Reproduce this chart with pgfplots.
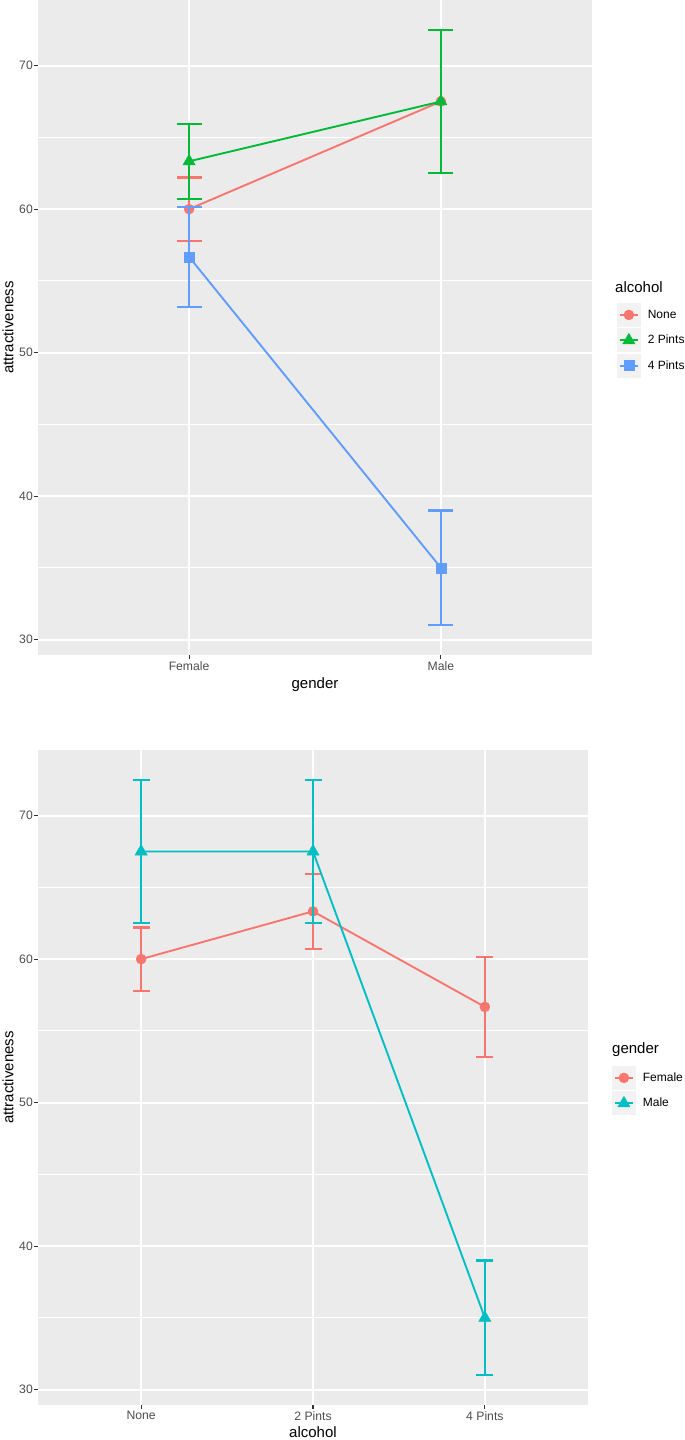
\documentclass[border=0pt]{standalone}
\usepackage{pgfplots}
\usepackage{fontspec}
\setmainfont{Liberation Sans}
\definecolor{gR}{HTML}{F8766D}
\definecolor{gG}{HTML}{00BA38}
\definecolor{gB}{HTML}{619CFF}
\definecolor{gC}{HTML}{00BFC4}
\definecolor{bgcol}{HTML}{EBEBEB}
\definecolor{keycol}{HTML}{F2F2F2}
\definecolor{tickcol}{HTML}{4D4D4D}
\definecolor{tickmark}{HTML}{333333}
\pgfplotsset{compat=1.18,
  legend image code/.code={
    \fill[keycol] (0pt,-11pt) rectangle (22pt,11pt);
    \draw[mark repeat=2,mark phase=2,#1] plot coordinates {(2pt,0pt)(11pt,0pt)(20pt,0pt)};
  }
}
\pgfplotsset{
  ggbase/.style={
    scale only axis, height=655pt,
    clip mode=individual,
    ymin=28.925, ymax=74.575,
    ytick={30,40,50,60,70}, minor ytick={35,45,55,65},
    grid=both,
    major grid style={white, line width=2pt},
    minor grid style={white, line width=1pt},
    axis background/.style={fill=bgcol},
    axis line style={draw=none},
    tick align=outside, tick pos=left,
    major tick length=4pt, minor tick length=0pt,
    tick style={tickmark, line width=1.1pt},
    tick label style={font=\fontsize{12.2}{14}\selectfont, text=tickcol},
    yticklabel style={inner sep=1pt},
    xticklabel style={inner sep=2pt},
    /pgf/number format/assume math mode=true,
    ylabel={attractiveness},
    legend style={anchor=north west, draw=none, fill=none, inner sep=0pt, outer sep=0pt,
      row sep=1.5pt, font=\fontsize{12}{14}\selectfont,
      nodes={inner xsep=2pt},
      /tikz/every odd column/.append style={column sep=5pt}},
    legend cell align=left,
  },
  ebar/.style={error bars/.cd, y dir=both, y explicit,
    error bar style={line width=2.2pt},
    error mark options={rotate=90, line width=2.2pt, mark size=#1}},
}
\begin{document}
\begin{tikzpicture}
\useasboundingbox (0,0) rectangle (685pt,1440pt);
% ---------- top panel ----------
\begin{axis}[ggbase,
  at={(38pt,785pt)}, anchor=south west,
  width=554pt,
  xmin=0.4, xmax=2.6,
  xtick={1,2}, xticklabels={Female,Male},
  xlabel={gender},
  xlabel style={font=\fontsize{15}{17}\selectfont, at={(axis description cs:0.5,-0.0458)}, anchor=center},
  ylabel style={font=\fontsize{15}{17}\selectfont, at={(axis description cs:-0.0542,0.5)}, anchor=center},
  legend style={at={(rel axis cs:1.045,0.5374)}},
]
\addplot[gR, line width=1.9pt, mark=*, mark size=5pt, mark options={line width=0.5pt, fill=gR}, ebar=12.5pt]
  coordinates {(1,60) +- (0,2.2) (2,67.5) +- (0,5)};
\addlegendentry{None}
\addplot[gG, line width=1.9pt, mark=triangle*, mark size=7pt, mark options={line width=0.5pt, fill=gG}, ebar=12.5pt]
  coordinates {(1,63.33) +- (0,2.6) (2,67.5) +- (0,5)};
\addlegendentry{2 Pints}
\addplot[gB, line width=1.9pt, mark=square*, mark size=5pt, mark options={line width=0.5pt, fill=gB}, ebar=12.5pt]
  coordinates {(1,56.67) +- (0,3.47) (2,35) +- (0,4)};
\addlegendentry{4 Pints}
\node[anchor=west, inner sep=0pt, font=\fontsize{15}{17}\selectfont] at (rel axis cs:1.0415,0.5618) {alcohol};
\end{axis}
% ---------- bottom panel ----------
\begin{axis}[ggbase,
  at={(38pt,35pt)}, anchor=south west,
  width=550pt,
  xmin=0.4, xmax=3.6,
  xtick={1,2,3}, xticklabels={None,2 Pints,4 Pints},
  xlabel={alcohol},
  xlabel style={font=\fontsize{15}{17}\selectfont, at={(axis description cs:0.5,-0.0415)}, anchor=center},
  ylabel style={font=\fontsize{15}{17}\selectfont, at={(axis description cs:-0.0545,0.5)}, anchor=center},
  legend style={at={(rel axis cs:1.0436,0.5176)}},
]
\addplot[gR, line width=1.9pt, mark=*, mark size=5pt, mark options={line width=0.5pt, fill=gR}, ebar=8.5pt]
  coordinates {(1,60) +- (0,2.2) (2,63.33) +- (0,2.6) (3,56.67) +- (0,3.47)};
\addlegendentry{Female}
\addplot[gC, line width=1.9pt, mark=triangle*, mark size=7pt, mark options={line width=0.5pt, fill=gC}, ebar=8.5pt]
  coordinates {(1,67.5) +- (0,5) (2,67.5) +- (0,5) (3,35) +- (0,4)};
\addlegendentry{Male}
\node[anchor=west, inner sep=0pt, font=\fontsize{15}{17}\selectfont] at (rel axis cs:1.0436,0.542) {gender};
\end{axis}
\end{tikzpicture}
\end{document}
